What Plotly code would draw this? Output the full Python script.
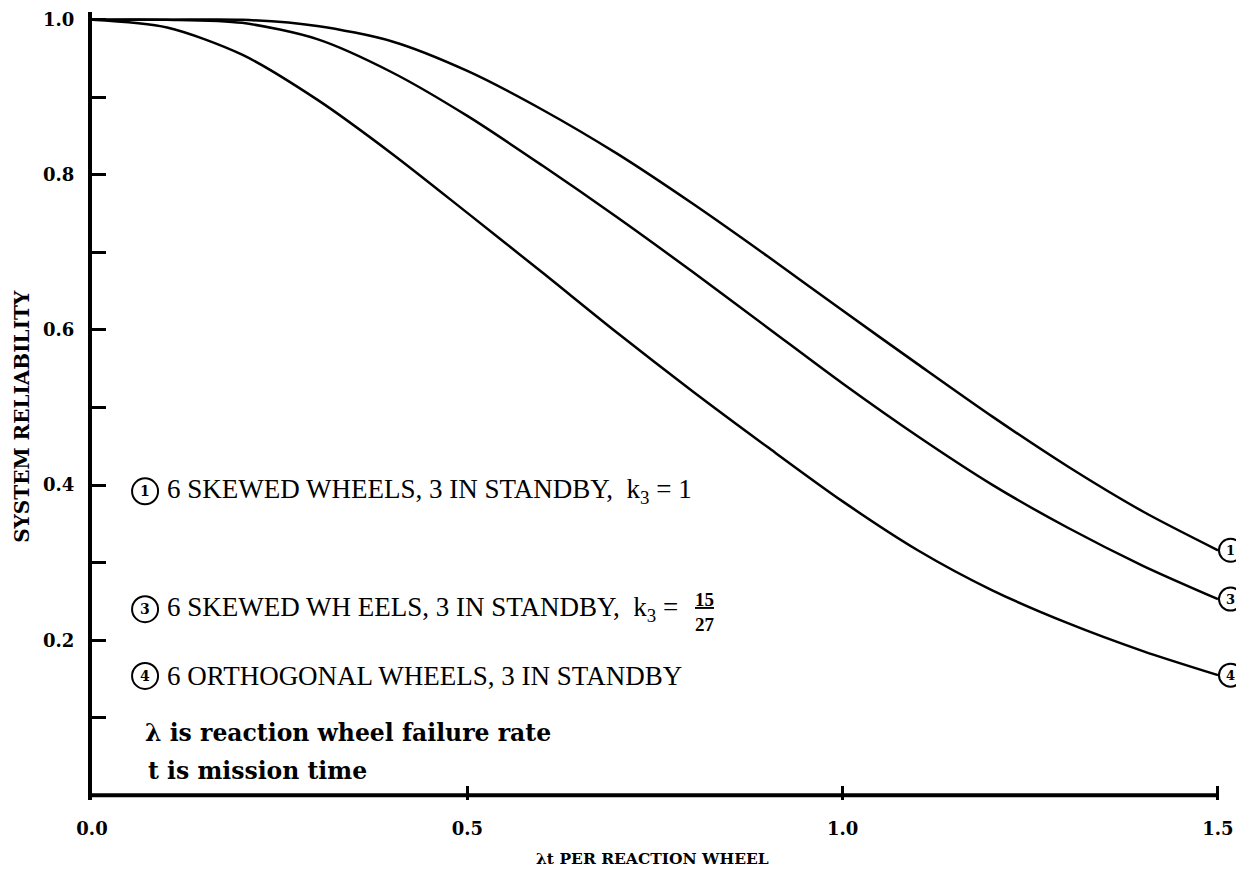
import plotly.graph_objects as go

# ---- data ----
lam_t = [0.0, 0.1, 0.2, 0.3, 0.4, 0.5, 0.6, 0.7, 0.8, 0.9, 1.0, 1.1, 1.2, 1.3, 1.4, 1.5]
curve_1 = [1.0, 1.0, 1.0, 0.992, 0.972, 0.934, 0.884, 0.827, 0.763, 0.695, 0.625, 0.556, 0.488, 0.424, 0.366, 0.316]
curve_3 = [1.0, 1.0, 0.996, 0.975, 0.932, 0.876, 0.812, 0.745, 0.675, 0.603, 0.531, 0.463, 0.400, 0.345, 0.296, 0.253]
curve_4 = [1.0, 0.99, 0.955, 0.897, 0.827, 0.751, 0.674, 0.596, 0.521, 0.449, 0.379, 0.316, 0.264, 0.222, 0.186, 0.155]
curve_ids = ["1", "3", "4"]

x_tickvals = [0.0, 0.5, 1.0, 1.5]
x_ticktext = ["0.0", "0.5", "1.0", "1.5"]
y_tickvals = [0.2, 0.4, 0.6, 0.8, 1.0]
y_ticktext = ["0.2", "0.4", "0.6", "0.8", "1.0"]
y_minor_tickvals = [0.1, 0.3, 0.5, 0.7, 0.9]

legend_lines = [
    "6 SKEWED WHEELS, 3 IN STANDBY,  k<sub>3</sub> = 1",
    "6 SKEWED WH EELS, 3 IN STANDBY,  k<sub>3</sub> =",
    "6 ORTHOGONAL WHEELS, 3 IN STANDBY",
]
fraction_num = "15"
fraction_den = "27"
note_lines = ["λ is reaction wheel failure rate", "t is mission time"]
x_title = "λt PER REACTION WHEEL"
y_title = "SYSTEM RELIABILITY"

BOLD_SERIF = "DejaVu Serif"
TEXT_SERIF = "Liberation Serif"

fig = go.Figure()
series = [curve_1, curve_3, curve_4]
for cid, ys in zip(curve_ids, series):
    fig.add_trace(go.Scatter(
        x=lam_t, y=ys, mode="lines", name=cid,
        line=dict(color="black", width=2.5, shape="spline", smoothing=0.8),
        showlegend=False, hoverinfo="skip",
    ))

shapes = []
annotations = []

# x axis baseline (drawn to x = 1.5)
shapes.append(dict(type="line", xref="x", yref="y", x0=0, x1=1.5, y0=0, y1=0,
                   line=dict(color="black", width=4)))

# circled labels at the end of each curve
for cid, ys in zip(curve_ids, series):
    shapes.append(dict(type="circle", xref="x", yref="y", xsizemode="pixel", ysizemode="pixel",
                       xanchor=lam_t[-1], yanchor=ys[-1], x0=1, x1=24, y0=-11.5, y1=11.5,
                       line=dict(color="black", width=2), fillcolor="white"))
    annotations.append(dict(x=lam_t[-1], y=ys[-1], xref="x", yref="y", text=cid, showarrow=False,
                            xshift=12.5, font=dict(family=BOLD_SERIF, size=13, color="black", weight="bold")))

# legend block
leg_y = [0.392, 0.240, 0.154]
leg_circle_x = 0.0707
leg_text_x = 0.097
for cid, ly, txt in zip(curve_ids, leg_y, legend_lines):
    shapes.append(dict(type="circle", xref="x", yref="y", xsizemode="pixel", ysizemode="pixel",
                       xanchor=leg_circle_x, yanchor=ly, x0=-13, x1=13, y0=-13, y1=13,
                       line=dict(color="black", width=2)))
    annotations.append(dict(x=leg_circle_x, y=ly, xref="x", yref="y", text=cid, showarrow=False,
                            font=dict(family=BOLD_SERIF, size=14, color="black", weight="bold")))
    annotations.append(dict(x=leg_text_x, y=ly, xref="x", yref="y", text=txt, showarrow=False,
                            xanchor="left", yanchor="middle",
                            font=dict(family=TEXT_SERIF, size=27, color="black")))

# fraction 15/27 (one stacked text)
annotations.append(dict(x=0.816, y=0.236, xref="x", yref="y",
                        text="<u>" + fraction_num + "</u><br>" + fraction_den,
                        showarrow=False, xanchor="center", yanchor="middle",
                        font=dict(family=TEXT_SERIF, size=19, color="black", weight="bold")))

# notes
annotations.append(dict(x=0.068, y=0.081, xref="x", yref="y", text=note_lines[0], showarrow=False,
                        xanchor="left", yanchor="middle",
                        font=dict(family=BOLD_SERIF, size=23.5, color="black", weight="bold")))
annotations.append(dict(x=0.072, y=0.032, xref="x", yref="y", text=note_lines[1], showarrow=False,
                        xanchor="left", yanchor="middle",
                        font=dict(family=BOLD_SERIF, size=23.5, color="black", weight="bold")))

# axis titles
annotations.append(dict(x=0.747, y=0, xref="x", yref="paper", text=x_title, showarrow=False,
                        yshift=-58, yanchor="middle",
                        font=dict(family=BOLD_SERIF, size=15.5, color="black", weight="bold")))
annotations.append(dict(x=0, y=0.488, xref="paper", yref="y", text=y_title, showarrow=False,
                        xshift=-70, textangle=-90, xanchor="center", yanchor="middle",
                        font=dict(family=BOLD_SERIF, size=20, color="black", weight="bold")))

# the page body adds an 8px margin; the figure is sized so it ends at the window edge
fig.update_layout(
    width=1236, height=866,
    margin=dict(l=84, r=2, t=1, b=74),
    paper_bgcolor="white", plot_bgcolor="white",
    shapes=shapes, annotations=annotations,
    xaxis=dict(range=[0, 1.532], tickvals=x_tickvals, ticktext=x_ticktext,
               ticks="inside", ticklen=14, tickwidth=3, tickcolor="black",
               showline=False, showgrid=False, zeroline=False,
               ticklabelstandoff=16, ticklabeloverflow="allow",
               tickfont=dict(family=BOLD_SERIF, size=18, color="black", weight="bold")),
    yaxis=dict(range=[-0.006, 1.01], tickvals=y_tickvals, ticktext=y_ticktext,
               ticks="inside", ticklen=14, tickwidth=3, tickcolor="black",
               minor=dict(tickvals=y_minor_tickvals, ticks="inside", ticklen=14, tickwidth=3,
                          tickcolor="black", showgrid=False),
               showline=True, linewidth=4, linecolor="black",
               showgrid=False, zeroline=False, ticklabelstandoff=10, ticklabeloverflow="allow",
               tickfont=dict(family=BOLD_SERIF, size=18, color="black", weight="bold")),
)

fig.write_html("out.html")
